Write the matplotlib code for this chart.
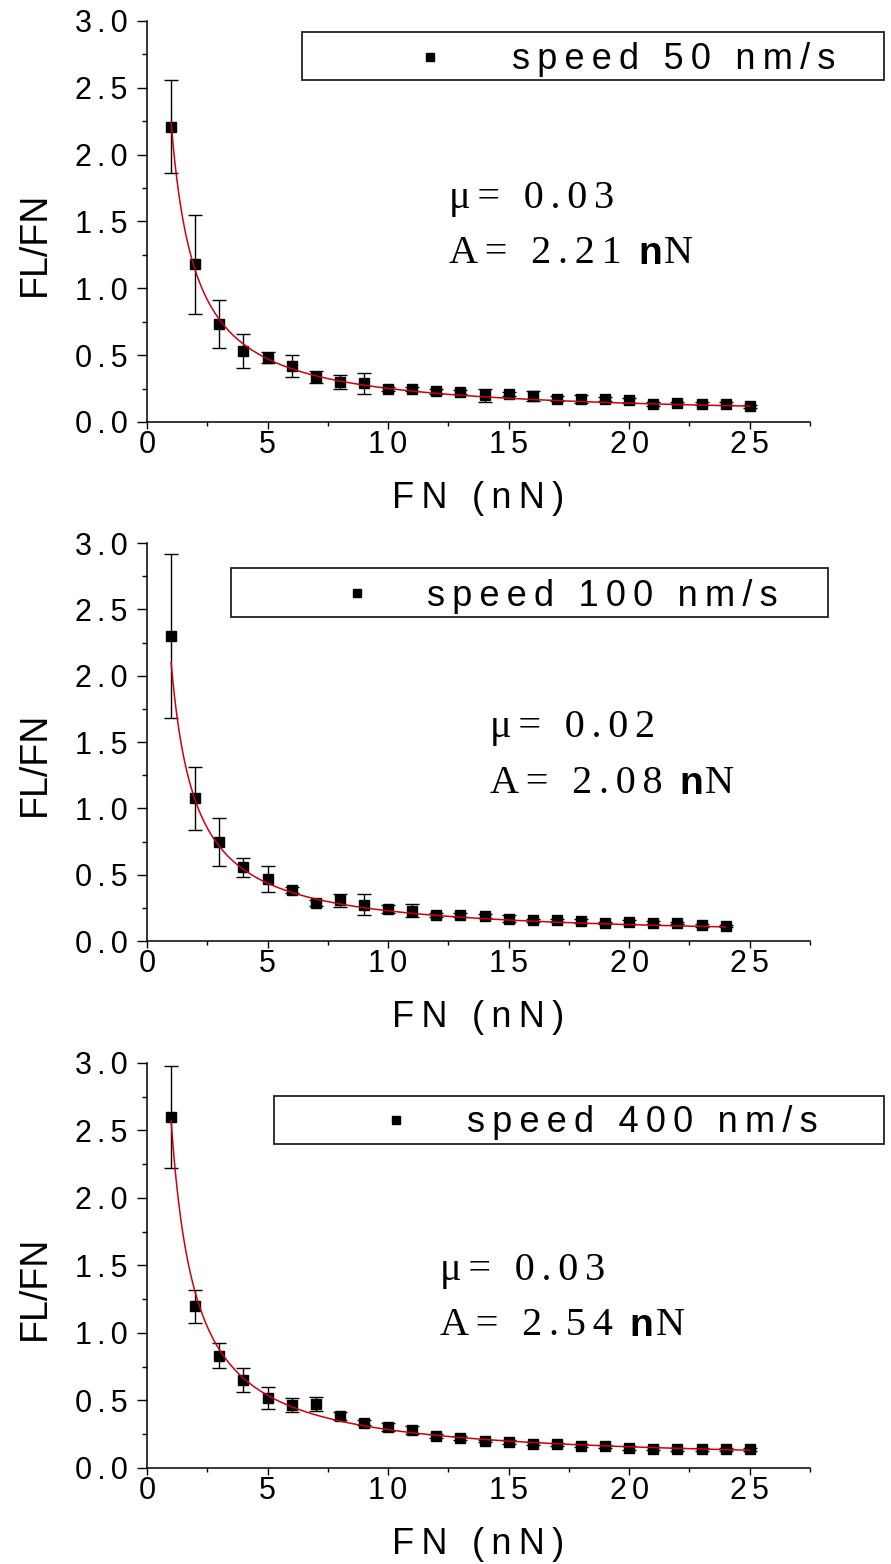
import numpy as np
import matplotlib.pyplot as plt
from matplotlib.patches import Rectangle
from matplotlib.ticker import MultipleLocator, FuncFormatter

plt.rcParams['font.family'] = ['Liberation Sans', 'DejaVu Sans']
SERIF = ['Liberation Serif', 'DejaVu Serif']
THIN = '\u2009'     # wide gap (legend, axis title)
NARROW = '\u2006'   # smaller gap (tick labels, fit note)

# ---- values ----
fn_50 = list(range(1, 26))
ratio_50 = [2.21, 1.18, 0.73, 0.53, 0.48, 0.42, 0.34, 0.30, 0.29, 0.245,
            0.248, 0.23, 0.225, 0.20, 0.21, 0.195, 0.175, 0.175, 0.175, 0.163,
            0.133, 0.143, 0.138, 0.138, 0.118]
err_50 = [0.345, 0.37, 0.18, 0.13, 0.04, 0.08, 0.045, 0.055, 0.08, 0.015,
          0.015, 0.02, 0.015, 0.05, 0.015, 0.04, 0.02, 0.03, 0.015, 0.02,
          0.015, 0.01, 0.01, 0.01, 0.01]

fn_100 = list(range(1, 25))
ratio_100 = [2.30, 1.075, 0.744, 0.556, 0.469, 0.386, 0.288, 0.306, 0.273, 0.243,
             0.23, 0.198, 0.198, 0.188, 0.168, 0.155, 0.155, 0.15, 0.135, 0.143,
             0.138, 0.135, 0.118, 0.113]
err_100 = [0.62, 0.24, 0.18, 0.07, 0.10, 0.025, 0.02, 0.05, 0.08, 0.03,
           0.05, 0.015, 0.015, 0.015, 0.025, 0.015, 0.015, 0.015, 0.01, 0.015,
           0.01, 0.01, 0.01, 0.01]

fn_400 = list(range(1, 26))
ratio_400 = [2.60, 1.197, 0.832, 0.65, 0.52, 0.467, 0.472, 0.385, 0.335, 0.303,
             0.28, 0.236, 0.223, 0.199, 0.194, 0.181, 0.174, 0.166, 0.161, 0.149,
             0.142, 0.137, 0.137, 0.137, 0.137]
err_400 = [0.38, 0.12, 0.09, 0.09, 0.08, 0.05, 0.05, 0.03, 0.02, 0.03,
           0.03, 0.015, 0.015, 0.01, 0.015, 0.01, 0.01, 0.01, 0.01, 0.015,
           0.01, 0.01, 0.01, 0.01, 0.01]

speed_labels = ['speed 50 nm/s', 'speed 100 nm/s', 'speed 400 nm/s']
mu_vals = [0.03, 0.02, 0.03]
A_vals = [2.21, 2.08, 2.54]

x_label = 'FN (nN)'
y_label = 'FL/FN'


def spaced(s, gap=THIN):
    # the original text is drawn with wide letter spacing
    return gap.join(s)


# axes rectangles (figure fraction) and the legend / note positions (axes fraction)
rects = [[0.1650, 0.7302, 0.7441, 0.2564],
         [0.1650, 0.3983, 0.7441, 0.2545],
         [0.1650, 0.0614, 0.7441, 0.2590]]
boxes = [(0.234, 0.852, 1.112, 0.973),
         (0.127, 0.815, 1.027, 0.938),
         (0.192, 0.799, 1.112, 0.919)]
marks = [(0.427, 0.911), (0.317, 0.874), (0.376, 0.858)]
texts = [(0.551, 0.879), (0.422, 0.842), (0.482, 0.830)]
notes = [(0.455, 0.534, 0.397), (0.517, 0.513, 0.373), (0.442, 0.464, 0.328)]
xlab_y = [-0.147, -0.148, -0.146]


def plot_panel(ax, fn, ratio, err, mu, A, label, i):
    ax.errorbar(fn, ratio, yerr=err, fmt='s', color='k', ms=7,
                elinewidth=1.0, capsize=5, capthick=1.0, zorder=2)
    xf = np.linspace(fn[0], fn[-1], 300)
    ax.plot(xf, mu + A / xf, '-', color='#cc0010', lw=1.1, zorder=3)

    ax.set_xlim(0, 27.5)
    ax.set_ylim(0, 3.0)
    ax.xaxis.set_major_locator(MultipleLocator(5))
    ax.xaxis.set_minor_locator(MultipleLocator(2.5))
    ax.yaxis.set_major_locator(MultipleLocator(0.5))
    ax.yaxis.set_minor_locator(MultipleLocator(0.25))
    ax.xaxis.set_major_formatter(FuncFormatter(lambda v, p: spaced('%g' % v, NARROW)))
    ax.yaxis.set_major_formatter(FuncFormatter(lambda v, p: spaced('%.1f' % v, NARROW)))

    for s in ['top', 'right']:
        ax.spines[s].set_visible(False)
    for s in ['left', 'bottom']:
        ax.spines[s].set_linewidth(1.1)
    ax.tick_params(axis='y', which='major', direction='out', length=7, width=1,
                   labelsize=22, pad=7)
    ax.tick_params(axis='y', which='minor', direction='out', length=3.5, width=1)
    ax.tick_params(axis='x', which='major', direction='out', length=5, width=1,
                   labelsize=22, pad=1)
    ax.tick_params(axis='x', which='minor', direction='out', length=3, width=1)

    ax.set_xlabel(spaced(x_label), fontsize=26)
    ax.xaxis.set_label_coords(0.5, xlab_y[i])
    ax.set_ylabel(y_label, fontsize=27)
    ax.yaxis.set_label_coords(-0.142, 0.444)

    # legend box drawn by hand (it runs past the end of the axis)
    x0, y0, x1, y1 = boxes[i]
    ax.add_patch(Rectangle((x0, y0), x1 - x0, y1 - y0, transform=ax.transAxes,
                           fill=False, edgecolor='#222222', lw=1.3, clip_on=False))
    ax.plot([marks[i][0]], [marks[i][1]], 's', color='k', ms=6,
            transform=ax.transAxes, clip_on=False)
    ax.text(texts[i][0], texts[i][1], spaced(label), transform=ax.transAxes,
            fontsize=26, va='baseline')

    # fit parameters
    nx, ny_mu, ny_A = notes[i]
    ax.text(nx, ny_mu, spaced('\u03bc= %.2f' % mu, NARROW), transform=ax.transAxes,
            family=SERIF, fontsize=29, va='baseline')
    t_a = ax.text(nx, ny_A, spaced('A= %.2f' % A, NARROW), transform=ax.transAxes,
                  family=SERIF, fontsize=29, va='baseline')
    t_n = ax.annotate('n', xy=(1, 0), xycoords=t_a, xytext=(12, 0),
                      textcoords='offset points', fontsize=28, fontweight='bold',
                      va='bottom', ha='left')
    ax.annotate('N', xy=(1, 0), xycoords=t_n, xytext=(1.5, 0),
                textcoords='offset points', family=SERIF, fontsize=29,
                va='bottom', ha='left')


fig = plt.figure(figsize=(8.91, 15.64), dpi=100, facecolor='w')
series = [(fn_50, ratio_50, err_50), (fn_100, ratio_100, err_100),
          (fn_400, ratio_400, err_400)]
for i in range(3):
    ax = fig.add_axes(rects[i])
    fn, ratio, err = series[i]
    plot_panel(ax, fn, ratio, err, mu_vals[i], A_vals[i], speed_labels[i], i)

fig.savefig('out.png', dpi=100, facecolor='w')
